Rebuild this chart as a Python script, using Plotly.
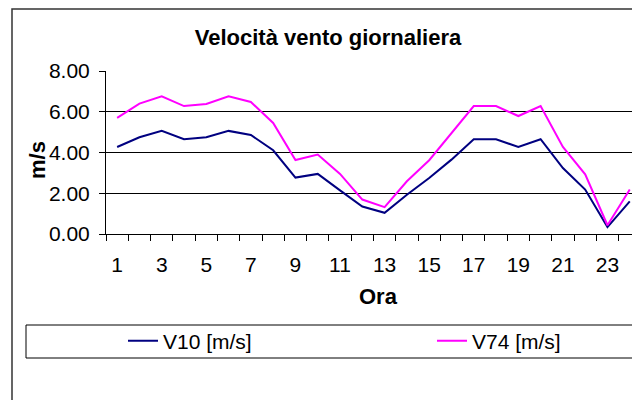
import plotly.graph_objects as go

hours = list(range(1, 25))
v10 = [4.27, 4.75, 5.06, 4.65, 4.75, 5.06, 4.86, 4.11, 2.77, 2.95, 2.14, 1.35,
       1.04, 1.93, 2.75, 3.65, 4.65, 4.65, 4.27, 4.65, 3.24, 2.18, 0.34, 1.60]
v74 = [5.70, 6.40, 6.76, 6.28, 6.38, 6.76, 6.48, 5.45, 3.63, 3.90, 2.95, 1.69,
       1.32, 2.59, 3.62, 4.93, 6.28, 6.28, 5.79, 6.28, 4.27, 2.93, 0.43, 2.18]
x_tick_vals = list(range(1, 24, 2))
x_tick_text = [str(v) for v in x_tick_vals]
y_tick_vals = [0, 2, 4, 6, 8]

FONT = "Liberation Sans, Arial, sans-serif"
W, H = 632, 400
L, T, B = 106, 71, 166
PW, PH = W - L, H - T - B


def px(xr):
    return (xr - L) / PW


def py(yr):
    return (H - B - yr) / PH


fig = go.Figure()
fig.add_trace(go.Scatter(x=hours, y=v10, mode="lines", name="V10 [m/s]",
                         line=dict(color="#000080", width=2), legend="legend"))
fig.add_trace(go.Scatter(x=hours, y=v74, mode="lines", name="V74 [m/s]",
                         line=dict(color="#FF00FF", width=2), legend="legend2"))

leg_common = dict(orientation="h", xanchor="left", yanchor="middle",
                  bgcolor="rgba(0,0,0,0)", borderwidth=0,
                  font=dict(family=FONT, size=21, color="black"))

fig.update_layout(
    width=W, height=H,
    margin=dict(l=L, r=0, t=T, b=B, pad=0),
    paper_bgcolor="white", plot_bgcolor="white",
    font=dict(family=FONT, size=21, color="black"),
    showlegend=True,
    legend=dict(x=px(123), y=py(341), **leg_common),
    legend2=dict(x=px(432), y=py(341), **leg_common),
    title=dict(text="<b>Velocità vento giornaliera</b>", x=328 / W, xanchor="center",
               y=1 - 37 / H, yanchor="middle",
               font=dict(family=FONT, size=22, color="black")),
)

fig.update_xaxes(range=[0.5, 24.1], tickmode="array", tickvals=x_tick_vals,
                 ticktext=x_tick_text, ticks="", showgrid=False, zeroline=False,
                 showline=True, linecolor="black", linewidth=1,
                 ticklabelstandoff=12,
                 minor=dict(tickmode="linear", tick0=0.5, dtick=1, ticks="outside",
                            ticklen=6, tickcolor="black", tickwidth=1, showgrid=False))
fig.update_yaxes(range=[0, 8], tickmode="array", tickvals=y_tick_vals,
                 tickformat=".2f", ticks="outside", ticklen=6, tickcolor="black",
                 showgrid=True, gridcolor="black", gridwidth=1, zeroline=False,
                 showline=True, linecolor="black", linewidth=1,
                 ticklabelstandoff=5)

# axis titles
fig.add_annotation(text="<b>Ora</b>", xref="paper", yref="paper",
                   x=px(378), y=py(296), showarrow=False,
                   xanchor="center", yanchor="middle", font=dict(family=FONT, size=22))
fig.add_annotation(text="<b>m/s</b>", xref="paper", yref="paper",
                   x=px(37), y=py(160), showarrow=False,
                   textangle=-90, xanchor="center", yanchor="middle",
                   font=dict(family=FONT, size=22))

# outer chart border and legend box
fig.add_shape(type="rect", xref="paper", yref="paper",
              x0=px(12), x1=1.05, y0=py(430), y1=py(9),
              line=dict(color="#333333", width=1.5), fillcolor="rgba(0,0,0,0)", layer="below")
fig.add_shape(type="rect", xref="paper", yref="paper",
              x0=px(26), x1=1.05, y0=py(358), y1=py(325),
              line=dict(color="black", width=1), fillcolor="rgba(0,0,0,0)", layer="below")

fig.write_html("out.html",
               config={"displayModeBar": False},
               post_script="document.body.style.margin='0';document.body.style.overflow='hidden';")
